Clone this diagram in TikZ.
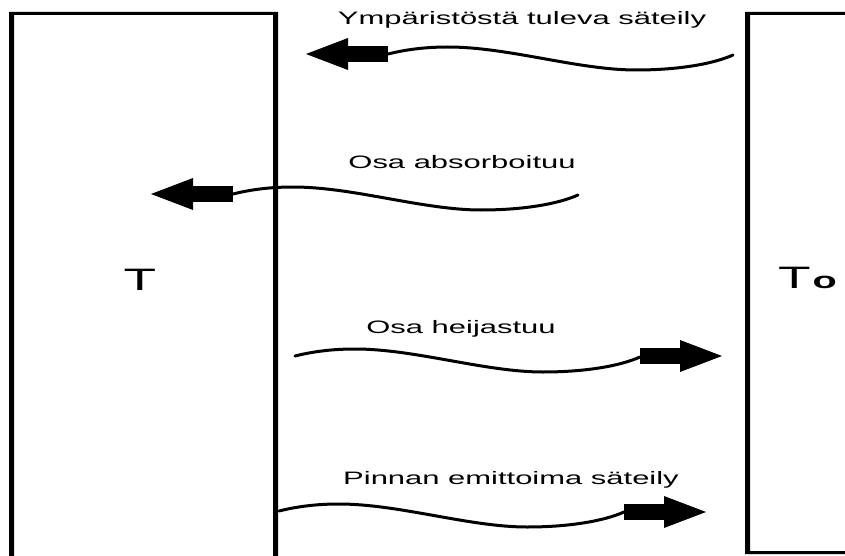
\documentclass[tikz,border=0pt]{standalone}
\usepackage{fontspec}
\usepackage{graphicx}
\setmainfont{Liberation Sans}
\tikzset{
  wavepen/.style={line width=3pt, line cap=round, black},
  lbl/.style={inner sep=0pt, anchor=base, font=\fontsize{18}{18}\selectfont},
  wave/.pic={\draw[wavepen] (0,0) .. controls (20,-5) and (40,-7) .. (60,-7)
      .. controls (120,-7) and (190,16) .. (248,16)
      .. controls (290,16) and (325,10) .. (345,1);},
  headL/.pic={\fill (0,-8) rectangle (-40,8); \fill (-40,-16) -- (-82,0) -- (-40,16) -- cycle;},
  headR/.pic={\fill (0,-8) rectangle (40,8); \fill (40,-16) -- (82,0) -- (40,16) -- cycle;}
}
\newcommand{\wide}[1]{\scalebox{1.72}[1]{#1}}
\begin{document}
\begin{tikzpicture}[x=1pt,y=-1pt]
\useasboundingbox (0,0) rectangle (845,556);
\clip (0,0) rectangle (845,556);
\fill[white] (0,0) rectangle (845,556);
% boxes
\fill[black,even odd rule] (9,12) rectangle (278,580) (14,15) rectangle (273,580);
\fill[black,even odd rule] (745,12) rectangle (870,554) (750,15) rectangle (870,551);
% box labels
\node[inner sep=0pt, anchor=base, font=\fontsize{31}{31}\selectfont] (tleft) at (140,290) {\wide{T}};
\node[inner sep=0pt, anchor=base west, font=\fontsize{31}{31}\selectfont] (tright) at (778,288) {\wide{T\hspace{1pt}{\fontsize{23}{23}\selectfont\bfseries o}}};
% arrow 1
\coordinate (a1) at (388,54);
\pic at (a1) {wave};
\pic at (a1) {headL};
\node[lbl] (l1) at (522,25) {\wide{Ympäristöstä tuleva säteily}};
% arrow 2
\coordinate (a2) at (233,194);
\pic at (a2) {wave};
\pic at (a2) {headL};
\node[lbl] (l2) at (462,168) {\wide{Osa absorboituu}};
% arrow 3
\coordinate (a3) at (295,356);
\coordinate (h3) at (640,356);
\pic at (a3) {wave};
\pic at (h3) {headR};
\node[lbl] (l3) at (461,333) {\wide{Osa heijastuu}};
% arrow 4
\coordinate (a4) at (279,511);
\coordinate (h4) at (624,512);
\pic at (a4) {wave};
\pic at (h4) {headR};
\node[lbl] (l4) at (511,484) {\wide{Pinnan emittoima säteily}};
\end{tikzpicture}
\end{document}
